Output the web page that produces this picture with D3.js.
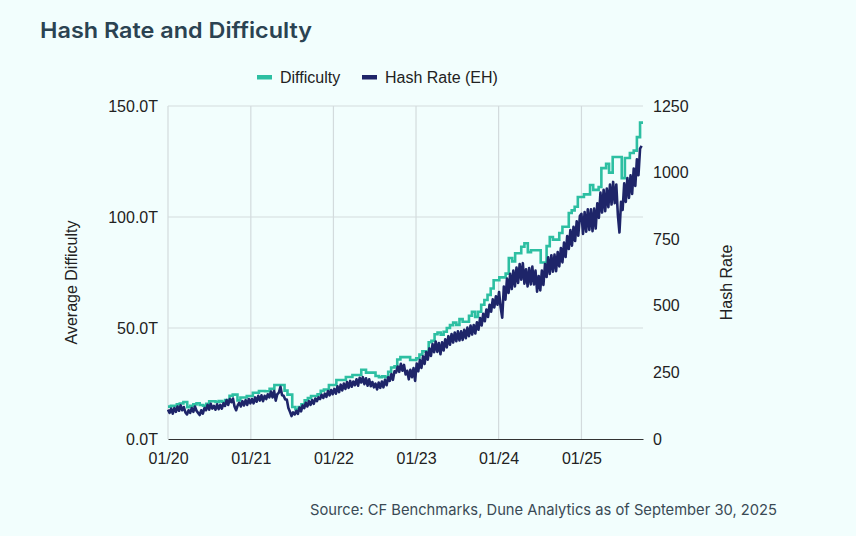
<!DOCTYPE html>
<html>
<head>
<meta charset="utf-8">
<script src="https://cdn.jsdelivr.net/npm/d3@7/dist/d3.min.js"></script>
<style>
html,body{margin:0;padding:0;background:#f2fefd;}
svg{display:block;}
</style>
</head>
<body>
<svg id="chart" width="856" height="536"></svg>
<script>
// ---------- DATA ----------
const titleText = "Hash Rate and Difficulty";
const sourceText = "Source: CF Benchmarks, Dune Analytics as of September 30, 2025";
const seriesNames = ["Difficulty", "Hash Rate (EH)"];
const xTickDates = ["2020-01-01","2021-01-01","2022-01-01","2023-01-01","2024-01-01","2025-01-01"];
const leftTicks = [0, 50, 100, 150];
const rightTicks = [0, 250, 500, 750, 1000, 1250];
const startDate = "2020-01-01";
const endDate = "2025-09-30";

// Difficulty adjustments (date, trillions)
const diffDates = [
 "2020-01-01","2020-01-14","2020-02-09","2020-02-22","2020-03-09","2020-03-26","2020-04-08","2020-04-22",
 "2020-05-06","2020-05-20","2020-06-04","2020-06-18","2020-07-01","2020-07-29","2020-08-12","2020-08-25",
 "2020-09-09","2020-09-29","2020-10-13","2020-11-03","2020-11-16","2020-12-14",
 "2021-01-10","2021-02-06","2021-03-05","2021-03-25","2021-04-15","2021-05-30","2021-06-12","2021-07-03",
 "2021-07-17","2021-07-31","2021-08-13","2021-08-27","2021-09-10","2021-09-24","2021-10-23","2021-11-06",
 "2021-11-20","2021-12-12",
 "2022-01-14","2022-02-25","2022-03-26","2022-05-04","2022-05-25","2022-07-06","2022-07-21","2022-08-04",
 "2022-08-18","2022-08-31","2022-09-13","2022-09-28","2022-10-10","2022-10-24","2022-12-06",
 "2023-01-02","2023-01-16","2023-01-29","2023-02-12","2023-02-26","2023-03-10","2023-03-24","2023-04-06",
 "2023-04-20","2023-05-03","2023-05-17","2023-05-31","2023-06-14","2023-06-28","2023-07-12","2023-07-26",
 "2023-08-23","2023-09-05","2023-09-19","2023-10-02","2023-10-16","2023-10-30","2023-11-13","2023-11-27",
 "2023-12-10",
 "2024-01-04","2024-02-01","2024-02-15","2024-03-01","2024-03-14","2024-04-10","2024-04-24","2024-05-09",
 "2024-05-23","2024-07-05","2024-07-31","2024-08-14","2024-08-28","2024-09-25","2024-10-09","2024-11-06",
 "2024-11-19","2024-12-02","2024-12-16",
 "2025-01-12","2025-02-08","2025-02-22","2025-03-18","2025-03-30","2025-04-20","2025-05-03","2025-05-19",
 "2025-06-28","2025-07-12","2025-08-03","2025-08-20","2025-09-03","2025-09-17"
];
const diffValues = [
 14.6,14.9,15.6,16.0,16.7,14.3,14.9,15.6,
 16.1,15.3,15.0,15.9,17.0,16.7,17.1,16.8,
 17.6,19.5,20.0,17.4,18.7,19.4,
 20.8,21.6,21.5,22.6,24.3,21.8,20.0,14.4,
 13.4,14.4,15.6,17.4,18.4,19.4,20.1,21.7,
 22.3,24.3,
 26.6,27.9,28.8,31.2,29.9,28.4,27.8,28.2,
 27.8,30.3,32.2,32.8,35.8,36.9,35.6,
 36.3,38.0,39.5,39.3,43.6,44.2,47.2,48.0,
 47.0,48.3,50.0,51.3,52.4,51.4,54.0,52.8,
 55.5,57.3,55.0,57.3,60.5,62.6,64.9,67.8,
 71.5,
 72.8,74.5,81.5,80.0,83.7,86.6,88.2,84.2,
 85.0,79.5,86.9,91.0,89.8,92.8,95.6,101.8,
 103.0,104.6,109.0,
 110.2,114.4,112.2,113.5,122.0,124.0,120.0,127.0,
 117.5,126.6,128.8,129.9,136.0,142.5
];

// Hash rate (EH/s), one reading per week from 2020-01-01
const hashValues = [
 // 2020
 110,98,114,95,116,102,122,106,126,108,120,100,
 92,108,98,116,102,122,106,98,90,108,95,116,108,128,
 110,132,114,124,110,130,112,128,114,134,124,146,128,150,
 138,152,122,108,126,136,122,142,126,146,128,150,134,
 // 2021
 150,134,156,140,162,144,164,142,162,150,168,156,178,
 156,180,144,168,174,196,164,162,148,148,116,102,86,
 100,92,106,94,118,104,126,116,136,122,142,128,146,
 132,152,142,156,150,166,154,170,158,180,164,184,168,
 // 2022
 188,170,198,176,204,182,208,188,214,192,218,196,216,
 202,224,200,230,212,232,206,228,200,224,198,214,194,
 208,186,212,192,216,194,222,202,232,218,244,222,254,
 250,272,252,282,256,278,242,256,224,260,232,266,218,
 // 2023
 283,254,296,267, 310,282,326,298, 340,312,356,326,366,
 327,360,318,363, 332,374,344,386,354, 394,362,400,367,
 404,370,404,372, 410,378,418,386,426, 392,428,396,438,
 410,454,426,470, 442,486,458,504,478, 524,494,536,504,
 // 2024
 552,493,455,572,523, 602,548,620,563, 632,573,644,586,
 657,598,660,583, 637,573,642,580,647, 580,632,553,612,
 558,632,578,657,608, 682,620,690,628, 692,630,702,648,
 717,663,737,683,762, 713,784,726,797, 743,817,763,837,
 // 2025
 845,770,852,778,862, 785,862,780,865, 790,885,830,925,
 850,935,855,940,870, 955,880,965,885, 955,840,775,890,
 860,960,890,980,905, 990,920,1015,950, 1050,990,1090,1100
];

// ---------- CHART ----------
const svg = d3.select("#chart");
const W = 856, H = 536;
const plot = {left: 168, right: 643, top: 106, bottom: 439};
const parse = d3.timeParse("%Y-%m-%d");

const colDiff = "#2dbfa2";
const colHash = "#1e2569";
const gridCol = "#d3dbdd";
const axisFont = "'Liberation Sans', Arial, sans-serif";

const x = d3.scaleTime().domain([parse(startDate), parse(endDate)]).range([plot.left, plot.right]);
const yL = d3.scaleLinear().domain([0, 150]).range([plot.bottom, plot.top]);
const yR = d3.scaleLinear().domain([0, 1250]).range([plot.bottom, plot.top]);

svg.append("rect").attr("width", W).attr("height", H).attr("fill", "#f2fefd");

// Title
svg.append("text").attr("x", 40).attr("y", 38)
  .attr("font-family", "Inter, 'Open Sans', sans-serif").attr("font-weight", 600)
  .attr("font-size", 22).attr("fill", "#2b4352")
  .attr("textLength", 272).attr("lengthAdjust", "spacingAndGlyphs")
  .text(titleText);

// Gridlines
const grid = svg.append("g");
grid.selectAll("line.v").data(xTickDates.map(parse)).join("line")
  .attr("x1", d => x(d)).attr("x2", d => x(d))
  .attr("y1", plot.top).attr("y2", plot.bottom)
  .attr("stroke", gridCol).attr("stroke-width", 1.2);
grid.selectAll("line.h").data(leftTicks.filter(v => v > 0)).join("line")
  .attr("x1", plot.left).attr("x2", plot.right)
  .attr("y1", d => yL(d)).attr("y2", d => yL(d))
  .attr("stroke", gridCol).attr("stroke-width", 1.2);

// Axes
const gx = svg.append("g").attr("transform", `translate(0,${plot.bottom})`)
  .call(d3.axisBottom(x).tickValues(xTickDates.map(parse)).tickFormat(d3.timeFormat("%m/%y")).tickSize(0).tickPadding(0));
gx.select(".domain").attr("stroke", "#333").attr("stroke-width", 1.2);
gx.selectAll("text").attr("font-family", axisFont).attr("font-size", 16).attr("fill", "#222")
  .attr("dy", null).attr("y", 25);

const gl = svg.append("g").attr("transform", `translate(${plot.left},0)`)
  .call(d3.axisLeft(yL).tickValues(leftTicks).tickFormat(d => d.toFixed(1) + "T").tickSize(0).tickPadding(10));
gl.select(".domain").remove();
gl.selectAll("text").attr("font-family", axisFont).attr("font-size", 16).attr("fill", "#222");

const gr = svg.append("g").attr("transform", `translate(${plot.right},0)`)
  .call(d3.axisRight(yR).tickValues(rightTicks).tickFormat(d3.format("d")).tickSize(0).tickPadding(10));
gr.select(".domain").remove();
gr.selectAll("text").attr("font-family", axisFont).attr("font-size", 16).attr("fill", "#222");

// Axis titles
svg.append("text").attr("transform", `translate(77,${(plot.top+plot.bottom)/2 + 10}) rotate(-90)`)
  .attr("text-anchor", "middle").attr("font-family", axisFont).attr("font-size", 16).attr("fill", "#222")
  .text("Average Difficulty");
svg.append("text").attr("transform", `translate(732,${(plot.top+plot.bottom)/2 + 10}) rotate(-90)`)
  .attr("text-anchor", "middle").attr("font-family", axisFont).attr("font-size", 16).attr("fill", "#222")
  .text("Hash Rate");

// Lines
const diffData = diffDates.map((d, i) => ({date: parse(d), v: diffValues[i]}));
diffData.push({date: parse(endDate), v: diffValues[diffValues.length - 1]});
const hashData = hashValues.map((v, i) => ({date: d3.timeDay.offset(parse(startDate), 7 * i), v}));

svg.append("path").datum(diffData)
  .attr("fill", "none").attr("stroke", colDiff).attr("stroke-width", 2.6).attr("stroke-linejoin", "miter")
  .attr("d", d3.line().x(d => x(d.date)).y(d => yL(d.v)).curve(d3.curveStepAfter));

svg.append("path").datum(hashData)
  .attr("fill", "none").attr("stroke", colHash).attr("stroke-width", 2.6).attr("stroke-linejoin", "round")
  .attr("d", d3.line().x(d => x(d.date)).y(d => yR(d.v)));

// Legend
const legend = svg.append("g").attr("font-family", axisFont).attr("font-size", 16).attr("fill", "#222");
const legItems = [{name: seriesNames[0], col: colDiff, x: 257}, {name: seriesNames[1], col: colHash, x: 362}];
legItems.forEach(it => {
  legend.append("rect").attr("x", it.x).attr("y", 75).attr("width", 15).attr("height", 4.5).attr("fill", it.col);
  legend.append("text").attr("x", it.x + 23).attr("y", 83).text(it.name);
});

// Source
svg.append("text").attr("x", 310).attr("y", 515)
  .attr("font-family", "Inter, 'Open Sans', sans-serif").attr("font-size", 15).attr("fill", "#3a4a55")
  .attr("textLength", 467).attr("lengthAdjust", "spacingAndGlyphs")
  .text(sourceText);
</script>
</body>
</html>
